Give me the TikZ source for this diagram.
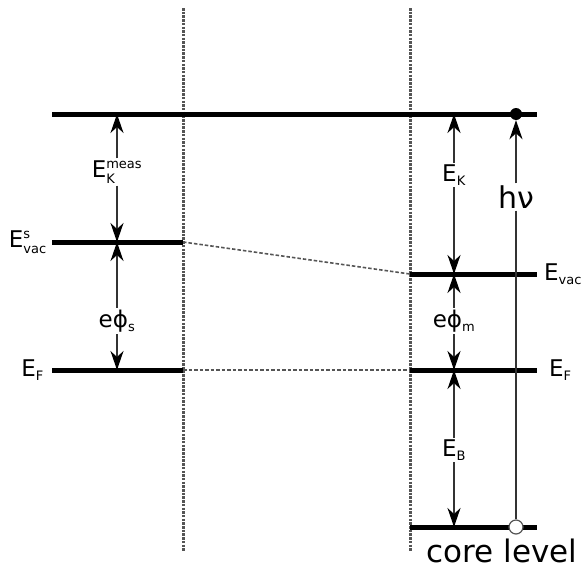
\documentclass[tikz,border=0pt]{standalone}
\usepackage{amsmath}
\usepackage{fontspec}
\setmainfont{DejaVu Sans}
\usetikzlibrary{arrows.meta, positioning, calc}
\definecolor{levelcol}{HTML}{000000}
\definecolor{guidecol}{HTML}{555555}
\definecolor{gapcol}{HTML}{333333}
\newcommand{\idx}[1]{\text{\fontsize{13}{13}\selectfont #1}}
\tikzset{
  levelline/.style={line width=5pt, draw=levelcol},
  guideline/.style={line width=3pt, draw=guidecol, dash pattern=on 2.5pt off 1.2pt},
  linkline/.style={line width=1.6pt, draw=guidecol, dash pattern=on 3.5pt off 2pt},
  gaparrow/.style={-{Stealth[length=19pt, width=13pt, inset=6pt, color=black]}, line width=1.6pt, draw=gapcol},
  plainline/.style={line width=1.6pt, draw=gapcol},
  elabel/.style={inner sep=2pt, font=\fontsize{23}{27}\selectfont},
  hvlabel/.style={inner sep=2pt, font=\fontsize{30}{34}\selectfont},
  corelabel/.style={inner sep=0pt, font=\fontsize{31}{35}\selectfont},
  dot/.style={circle, fill=black, minimum size=12pt, inner sep=0pt},
  hole/.style={circle, fill=white, draw=guidecol, line width=1.2pt, minimum size=14pt, inner sep=0pt},
}

\begin{document}
\begin{tikzpicture}[x=1pt, y=-1pt]
  \useasboundingbox (0,0) rectangle (583,570);

  % energy levels
  \coordinate (top-l) at (52,114);
  \coordinate (top-r) at (537,114);
  \coordinate (svac-l) at (52,242);
  \coordinate (svac-r) at (183,242);
  \coordinate (sfermi-l) at (52,370);
  \coordinate (sfermi-r) at (183,370);
  \coordinate (mvac-l) at (410,274);
  \coordinate (mvac-r) at (537,274);
  \coordinate (mfermi-l) at (410,370);
  \coordinate (mfermi-r) at (537,370);
  \coordinate (core-l) at (410,527);
  \coordinate (core-r) at (537,527);

  % sample / spectrometer boundaries
  \draw[guideline] (183,8) -- (183,551);
  \draw[guideline] (410,8) -- (410,551);
  \draw[linkline] (svac-r) -- (mvac-l);
  \draw[linkline] (sfermi-r) -- (mfermi-l);

  \foreach \a/\b in {top-l/top-r, svac-l/svac-r, sfermi-l/sfermi-r,
                     mvac-l/mvac-r, mfermi-l/mfermi-r, core-l/core-r}
    \draw[levelline] (\a) -- (\b);

  % level names
  \node[elabel, left=3pt of svac-l] (svac-txt) {E$^{\idx{s}}_{\idx{vac}}$};
  \node[elabel, left=6pt of sfermi-l] (sfermi-txt) {E$_{\idx{F}}$};
  \node[elabel, right=5pt of mvac-r] (mvac-txt) {E$_{\idx{vac}}$};
  \node[elabel, right=10pt of mfermi-r] (mfermi-txt) {E$_{\idx{F}}$};

  % gaps
  \node[elabel] (ekmeas) at (117,172) {E$^{\idx{meas}}_{\idx{K}}$};
  \node[elabel] (ephis) at (117,321) {eϕ$_{\idx{s}}$};
  \node[elabel] (ek) at (454,175) {E$_{\idx{K}}$};
  \node[elabel] (ephim) at (454,321) {eϕ$_{\idx{m}}$};
  \node[elabel] (eb) at (454,450) {E$_{\idx{B}}$};

  \draw[gaparrow] (ekmeas) -- (ekmeas |- top-l);
  \draw[gaparrow] (ekmeas) -- (ekmeas |- svac-l);
  \draw[gaparrow] (ephis) -- (ephis |- svac-l);
  \draw[gaparrow] (ephis) -- (ephis |- sfermi-l);
  \draw[gaparrow] (ek) -- (ek |- top-l);
  \draw[gaparrow] (ek) -- (ek |- mvac-l);
  \draw[gaparrow] (ephim) -- (ephim |- mvac-l);
  \draw[gaparrow] (ephim) -- (ephim |- mfermi-l);
  \draw[gaparrow] (eb) -- (eb |- mfermi-l);
  \draw[gaparrow] (eb) -- (eb |- core-l);

  % photoemission
  \node[hvlabel] (hv) at (516,197) {hν};
  \node[dot] (photo) at (hv |- top-l) {};
  \node[hole] (corehole) at (hv |- core-l) {};
  \draw[gaparrow] (hv) -- (photo);
  \draw[plainline] (hv) -- (corehole);

  \node[corelabel, anchor=base] (core-txt) at (502,562) {core level};

\end{tikzpicture}
\end{document}
